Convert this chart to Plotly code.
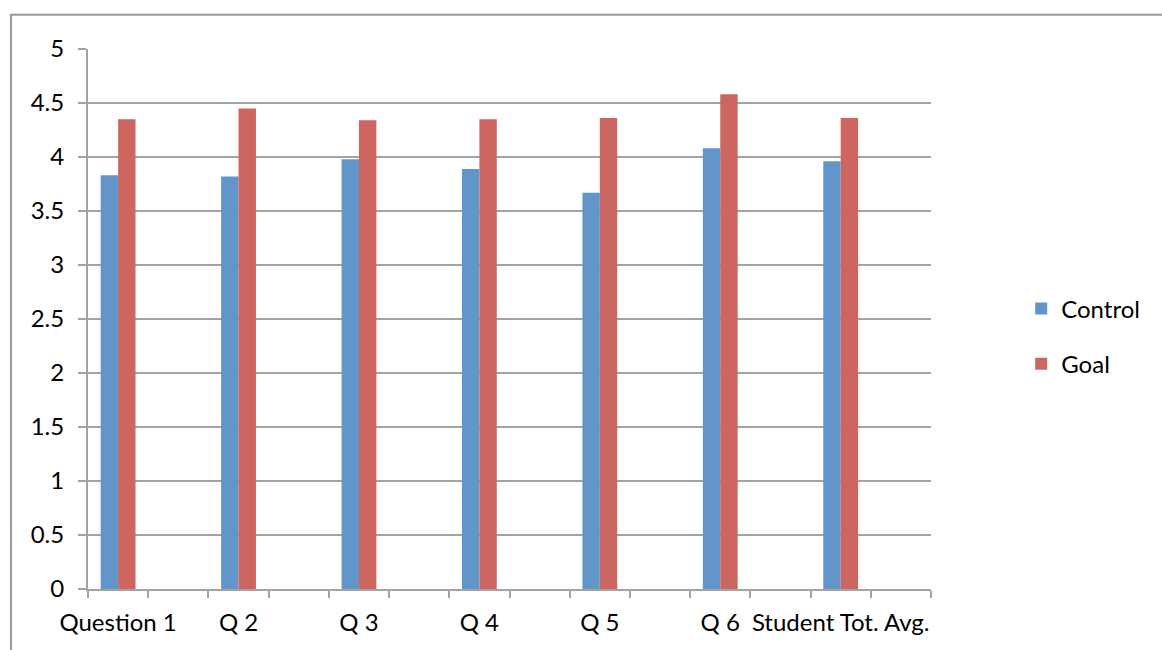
import plotly.graph_objects as go

categories = ["Question 1", "Q 2", "Q 3", "Q 4", "Q 5", "Q 6", "Student Tot. Avg."]
control = [3.83, 3.82, 3.98, 3.89, 3.67, 4.08, 3.96]
goal = [4.35, 4.45, 4.34, 4.35, 4.36, 4.58, 4.36]
y_ticks = [0, 0.5, 1, 1.5, 2, 2.5, 3, 3.5, 4, 4.5, 5]
y_tick_labels = ["0", "0.5", "1", "1.5", "2", "2.5", "3", "3.5", "4", "4.5", "5"]

# each category occupies two slots (label slot + empty slot), as in the original sheet
positions = [2 * i for i in range(len(categories))]
boundaries = [p - 0.5 for p in range(2 * len(categories) + 1)]

GRAY = "#a3a3a3"
FONT = "Lato"
bw = 0.289

fig = go.Figure()
fig.add_trace(go.Bar(x=positions, y=control, name="Control", width=bw, offset=-bw,
                     marker=dict(color="#6296cb", line=dict(width=0)),
                     legendgroup="a"))
fig.add_trace(go.Bar(x=positions, y=goal, name="Goal", width=bw, offset=0,
                     marker=dict(color="#cd6660", line=dict(width=0)),
                     legendgroup="b"))

fig.update_layout(
    width=1162, height=650,
    margin=dict(l=88, r=231, t=49, b=61),
    plot_bgcolor="white", paper_bgcolor="white",
    barmode="overlay",
    font=dict(family=FONT, size=24, color="#000000"),
    legend=dict(x=1.107, y=0.4676, xanchor="left", yanchor="middle",
                traceorder="grouped", tracegroupgap=21,
                font=dict(family=FONT, size=24, color="#000000")),
    xaxis=dict(range=[-0.5, 13.5], tickmode="array", tickvals=positions,
               ticktext=categories, ticks="", showgrid=False, zeroline=False,
               showline=True, linecolor=GRAY, linewidth=2,
               ticklabelstandoff=11,
               minor=dict(tickmode="array", tickvals=boundaries, ticks="outside",
                          ticklen=7, tickwidth=2, tickcolor=GRAY, showgrid=False)),
    yaxis=dict(range=[0, 5], tickmode="array", tickvals=y_ticks, ticktext=y_tick_labels,
               showgrid=True, gridcolor=GRAY, gridwidth=2, zeroline=False,
               showline=True, linecolor=GRAY, linewidth=2,
               ticks="outside", ticklen=8, tickwidth=2, tickcolor=GRAY,
               ticklabelstandoff=9),
    shapes=[dict(type="rect", xref="paper", yref="paper",
                 x0=-0.0913, x1=1.5, y0=-0.3, y1=1.0635,
                 line=dict(color="#999999", width=2), fillcolor="rgba(0,0,0,0)",
                 layer="below")],
)

fig.write_html("out.html")
